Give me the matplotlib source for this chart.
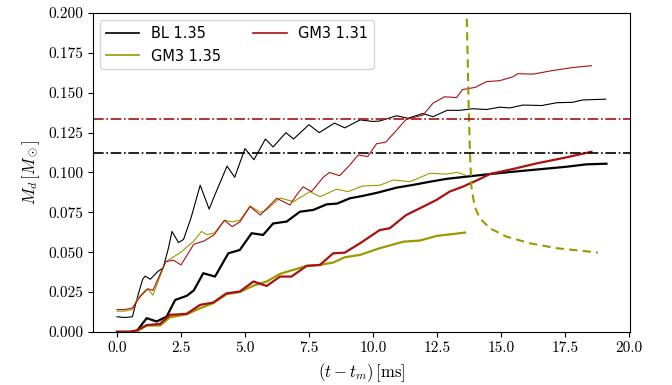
import matplotlib
matplotlib.use("Agg")
import matplotlib.pyplot as plt

plt.rcParams['font.family'] = 'serif'
plt.rcParams['font.serif'] = ['cmr10']
plt.rcParams['mathtext.fontset'] = 'cm'
plt.rcParams['axes.formatter.use_mathtext'] = True

# BL 1.35 -- total (thin) and disk (thick)
bl_thin_t = [0.0, 0.3, 0.6, 0.8, 1.0, 1.1, 1.3, 1.6, 1.8, 2.0, 2.15, 2.4, 2.6, 2.9, 3.25, 3.6, 3.8,
             4.3, 4.6, 5.0, 5.35, 5.8, 6.1, 6.6, 6.9, 7.5, 7.9, 8.5, 8.9, 9.5, 10.0, 10.27, 10.93,
             11.37, 11.95, 12.35, 12.9, 13.4, 13.9, 14.45, 14.96, 15.35, 15.86, 16.6, 17.2, 17.8,
             18.2, 19.1]
bl_thin_m = [0.0095, 0.009, 0.0095, 0.022, 0.033, 0.035, 0.033, 0.038, 0.040, 0.052, 0.063, 0.056, 0.058,
             0.072, 0.092, 0.077, 0.085, 0.104, 0.097, 0.115, 0.108, 0.121, 0.116, 0.125, 0.121,
             0.130, 0.125, 0.131, 0.128, 0.133, 0.132, 0.1323, 0.1356, 0.134, 0.137, 0.135, 0.139,
             0.139, 0.140, 0.1395, 0.141, 0.1405, 0.1423, 0.142, 0.1438, 0.144, 0.1455, 0.146]
bl_thick_t = [0.0, 0.5, 0.77, 1.16, 1.55, 1.94, 2.27, 2.72, 3.0, 3.37, 3.83, 4.35, 4.8, 5.26, 5.71, 6.1,
              6.63, 7.15, 7.67, 8.19, 8.6, 9.1, 9.6, 10.2, 10.93, 11.57, 12.23, 12.88, 13.66, 14.57,
              15.5, 16.5, 17.57, 18.35, 19.13]
bl_thick_m = [0.0, 0.0, 0.0005, 0.0086, 0.0065, 0.0096, 0.020, 0.0226, 0.026, 0.0368, 0.0347, 0.0493,
              0.0514, 0.0619, 0.0608, 0.068, 0.0692, 0.0754, 0.0765, 0.080, 0.0805, 0.0838, 0.0853,
              0.0874, 0.0905, 0.0922, 0.0942, 0.096, 0.0974, 0.099, 0.1005, 0.102, 0.1036, 0.1051,
              0.1055]

# GM3 1.35
gm35_thin_t = [0.0, 0.3, 0.6, 0.8, 1.1, 1.2, 1.4, 1.9, 2.5, 3.0, 3.3, 3.5, 3.8, 4.2, 4.5, 4.8, 5.2,
               5.6, 5.8, 6.37, 6.9, 7.54, 7.93, 8.58, 9.03, 9.6, 10.27, 10.8, 11.45, 12.23, 12.88,
               13.3, 13.6]
gm35_thin_m = [0.013, 0.013, 0.014, 0.021, 0.026, 0.027, 0.023, 0.044, 0.050, 0.057, 0.063, 0.061,
               0.062, 0.070, 0.069, 0.070, 0.079, 0.075, 0.076, 0.084, 0.0817, 0.088, 0.0848,
               0.0895, 0.088, 0.0915, 0.092, 0.0953, 0.0942, 0.0995, 0.099, 0.1001, 0.0984]
gm35_thick_t = [0.0, 0.5, 0.8, 1.16, 1.68, 2.07, 2.72, 3.24, 3.76, 4.28, 4.8, 5.33, 5.85, 6.37, 6.89,
                7.41, 7.93, 8.45, 8.9, 9.5, 10.27, 11.2, 11.84, 12.49, 13.14, 13.6]
gm35_thick_m = [0.0, 0.0, 0.0005, 0.004, 0.004, 0.0092, 0.011, 0.0148, 0.018, 0.0236, 0.025, 0.029,
                0.0316, 0.0364, 0.0389, 0.0414, 0.042, 0.0435, 0.0468, 0.0483, 0.0525, 0.0566,
                0.0573, 0.0602, 0.0614, 0.0623]
gm35_dash_t = [13.66, 13.70, 13.74, 13.79, 13.85, 13.98, 14.18, 14.57, 15.22, 16.13, 17.18, 18.09, 18.8]
gm35_dash_m = [0.205, 0.175, 0.145, 0.114, 0.091, 0.0786, 0.0713, 0.065, 0.0598, 0.0556, 0.0525,
               0.051, 0.0497]

# GM3 1.31
gm31_thin_t = [0.0, 0.3, 0.6, 0.9, 1.2, 1.4, 1.9, 2.2, 2.5, 3.0, 3.4, 3.8, 4.2, 4.5, 4.8, 5.2, 5.6,
               6.24, 6.76, 7.02, 7.27, 7.6, 8.06, 8.3, 8.7, 9.1, 9.43, 9.8, 10.14, 10.5, 10.93, 11.3,
               11.96, 12.35, 12.8, 13.27, 13.5, 14.0, 14.44, 14.96, 15.47, 15.67, 16.26, 17.04,
               17.8, 18.54]
gm31_thin_m = [0.014, 0.014, 0.015, 0.022, 0.027, 0.026, 0.044, 0.045, 0.042, 0.055, 0.057, 0.061,
               0.070, 0.066, 0.069, 0.0786, 0.0733, 0.0838, 0.0796, 0.086, 0.091, 0.088, 0.097,
               0.100, 0.098, 0.1047, 0.111, 0.110, 0.118, 0.119, 0.1266, 0.1333, 0.136, 0.1435,
               0.1475, 0.147, 0.152, 0.1534, 0.157, 0.1576, 0.160, 0.162, 0.1617, 0.164, 0.1658,
               0.167]
gm31_thick_t = [0.0, 0.5, 0.77, 1.16, 1.68, 2.07, 2.72, 3.24, 3.76, 4.28, 4.8, 5.33, 5.85, 6.37, 6.82,
                7.41, 7.93, 8.45, 8.9, 9.5, 10.27, 10.66, 11.3, 11.97, 12.49, 13.0, 13.53, 14.1,
                14.57, 15.48, 16.4, 17.57, 18.54]
gm31_thick_m = [0.0, 0.0, 0.001, 0.0042, 0.005, 0.0107, 0.0113, 0.0169, 0.0184, 0.0242, 0.0253,
                0.0316, 0.0288, 0.0347, 0.0347, 0.0414, 0.042, 0.0493, 0.0497, 0.0556, 0.0639,
                0.065, 0.0733, 0.0786, 0.0828, 0.088, 0.0912, 0.0953, 0.099, 0.1022, 0.1057,
                0.1095, 0.113]

hline_gm31 = 0.1335
hline_bl = 0.1125

red = '#aa1111'
olive = '#9a9a00'

fig = plt.figure(figsize=(6.72, 3.85), dpi=100)
ax = fig.add_axes([0.138, 0.138, 0.7995, 0.828])

ax.plot(bl_thin_t, bl_thin_m, color='k', lw=0.8, label='BL 1.35')
ax.plot(gm35_thin_t, gm35_thin_m, color=olive, lw=0.8, label='GM3 1.35')
ax.plot(gm31_thin_t, gm31_thin_m, color=red, lw=0.8, label='GM3 1.31')
ax.plot(bl_thick_t, bl_thick_m, color='k', lw=1.6)
ax.plot(gm35_thick_t, gm35_thick_m, color=olive, lw=1.6)
ax.plot(gm31_thick_t, gm31_thick_m, color=red, lw=1.6)
ax.plot(gm35_dash_t, gm35_dash_m, color=olive, lw=1.5, ls='--', dashes=(4, 2.5))
ax.axhline(hline_gm31, color=red, lw=1.2, ls='-.')
ax.axhline(hline_bl, color='k', lw=1.2, ls='-.')

ax.set_xlim(-0.95, 20.05)
ax.set_ylim(0, 0.2)
ax.set_xticks([0, 2.5, 5, 7.5, 10, 12.5, 15, 17.5, 20])
ax.set_yticks([0, 0.025, 0.05, 0.075, 0.1, 0.125, 0.15, 0.175, 0.2])
ax.set_yticklabels(['0.000', '0.025', '0.050', '0.075', '0.100', '0.125', '0.150', '0.175', '0.200'])
ax.set_xticklabels(['0.0', '2.5', '5.0', '7.5', '10.0', '12.5', '15.0', '17.5', '20.0'])
ax.tick_params(labelsize=11)
ax.set_xlabel(r'$(t-t_m)\,[\mathrm{ms}]$', fontsize=12)
ax.set_ylabel(r'$M_d\,[M_\odot]$', fontsize=12)
leg = ax.legend(loc='upper left', ncol=2, prop={'family': 'DejaVu Sans', 'size': 10.5},
                handlelength=2.3, columnspacing=2.2)
for h in leg.get_lines():
    h.set_linewidth(1.2)

plt.savefig('out.png', dpi=100)
